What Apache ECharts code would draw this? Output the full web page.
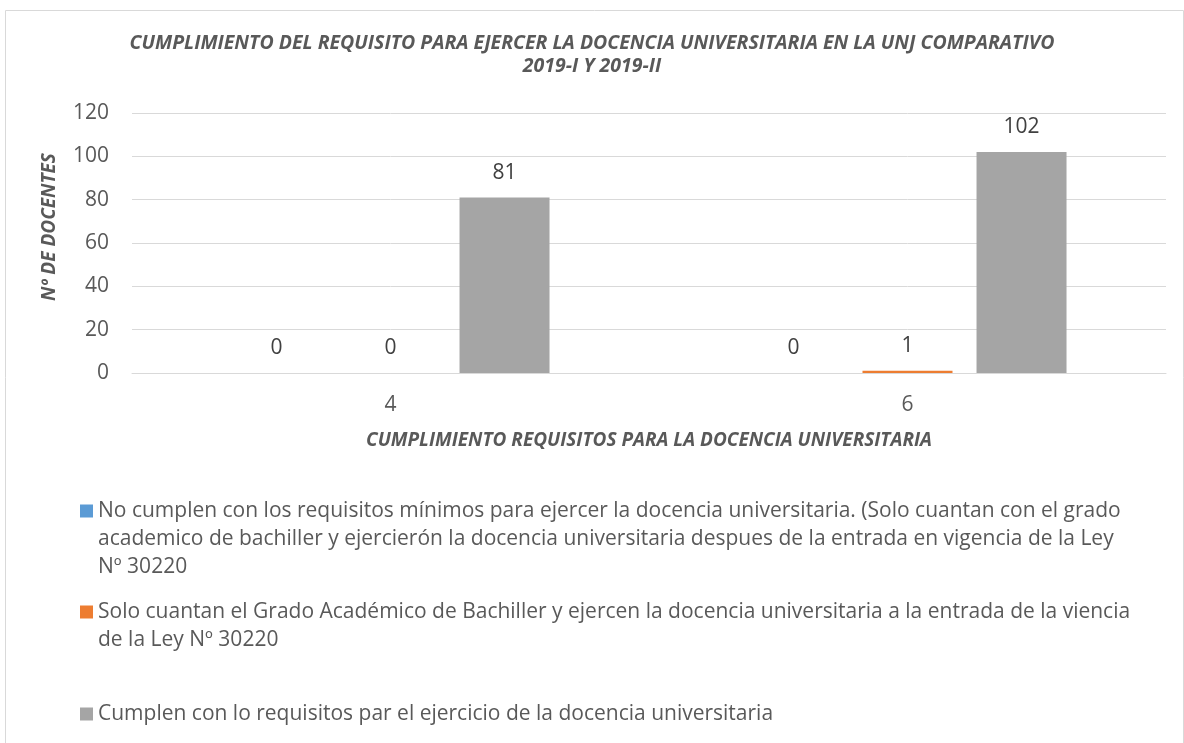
<!DOCTYPE html>
<html lang="es">
<head>
    <meta charset="UTF-8">
    <title>Cumplimiento del requisito docente UNJ</title>
    <script src="https://cdn.jsdelivr.net/npm/echarts@6/dist/echarts.min.js"></script>
    <style>
        html, body { margin: 0; padding: 0; background: #ffffff; }
        #chart { width: 1184px; height: 743px; }
    </style>
</head>
<body>
<div id="chart"></div>
<script type="text/javascript">
    // datos
    const categories = ['4', '6'];
    const seriesNames = [
        'No cumplen con los requisitos mínimos para ejercer la docencia universitaria. (Solo cuantan con el grado academico de bachiller y ejercierón la docencia universitaria despues de la entrada en vigencia de la Ley Nº 30220',
        'Solo cuantan el Grado Académico de Bachiller y ejercen la docencia universitaria a la entrada de la viencia de la Ley Nº 30220',
        'Cumplen con lo requisitos par el ejercicio de la docencia universitaria'
    ];
    // texto de la leyenda cortado en lineas como en el original
    const legendLines = [
        ['No cumplen con los requisitos mínimos para ejercer la docencia universitaria. (Solo cuantan con el grado',
         'academico de bachiller y ejercierón la docencia universitaria despues de la entrada en vigencia de la Ley',
         'Nº 30220'],
        ['Solo cuantan el Grado Académico de Bachiller y ejercen la docencia universitaria a la entrada de la viencia',
         'de la Ley Nº 30220'],
        ['Cumplen con lo requisitos par el ejercicio de la docencia universitaria']
    ];
    const noCumplen = [0, 0];
    const soloBachiller = [0, 1];
    const cumplen = [81, 102];
    const yTicks = [0, 20, 40, 60, 80, 100, 120];

    const colors = ['#5B9BD5', '#ED7D31', '#A5A5A5'];
    const textColor = '#595959';
    const font = 'Open Sans';
    const lineH = 28;
    // centro (y) de la primera linea de cada entrada de leyenda
    const legendFirstLine = [511, 612, 714];

    let myChart = echarts.init(document.getElementById('chart'));

    // el texto de la leyenda se centra sobre el icono: se anteponen lineas vacias
    // para que la primera linea real quede a la altura del cuadrado
    let legends = legendLines.map(function (lines, i) {
        let n = lines.length;
        let blank = new Array(n).join('\n');
        return {
            data: [seriesNames[i]],
            orient: 'vertical',
            left: 80,
            top: legendFirstLine[i] - (2 * n - 1) * lineH / 2,
            padding: 0,
            icon: 'rect',
            itemWidth: 13,
            itemHeight: 13,
            selectedMode: false,
            formatter: function () { return blank + lines.join('\n'); },
            textStyle: {
                color: textColor,
                fontFamily: font,
                fontSize: 21,
                lineHeight: lineH
            }
        };
    });

    function barSeries(name, data, color) {
        return {
            name: name,
            type: 'bar',
            data: data,
            barWidth: 90,
            barGap: '26.7%',
            itemStyle: { color: color },
            label: {
                show: true,
                position: 'top',
                distance: 14,
                color: '#404040',
                fontFamily: font,
                fontSize: 21
            }
        };
    }

    let option = {
        animation: false,
        textStyle: { fontFamily: font },
        title: {
            text: 'CUMPLIMIENTO DEL REQUISITO PARA EJERCER LA DOCENCIA UNIVERSITARIA EN LA UNJ COMPARATIVO\n2019-I Y 2019-II',
            left: 'center',
            top: 32,
            padding: 0,
            textStyle: {
                color: textColor,
                fontFamily: font,
                fontSize: 19.5,
                fontWeight: 'bold',
                fontStyle: 'italic',
                lineHeight: 23
            }
        },
        legend: legends,
        grid: {
            left: 132,
            right: 18,
            top: 113,
            bottom: 370,
            containLabel: false
        },
        xAxis: {
            type: 'category',
            data: categories,
            name: 'CUMPLIMIENTO REQUISITOS PARA LA DOCENCIA UNIVERSITARIA',
            nameLocation: 'middle',
            nameGap: 58,
            nameTextStyle: {
                color: textColor,
                fontFamily: font,
                fontSize: 19,
                fontWeight: 'bold',
                fontStyle: 'italic'
            },
            axisLine: { lineStyle: { color: '#D9D9D9', width: 1 } },
            axisTick: { show: false },
            axisLabel: {
                color: textColor,
                fontFamily: font,
                fontSize: 21,
                margin: 22
            }
        },
        yAxis: {
            type: 'value',
            min: yTicks[0],
            max: yTicks[yTicks.length - 1],
            interval: yTicks[1] - yTicks[0],
            name: 'Nº DE DOCENTES',
            nameLocation: 'middle',
            nameGap: 73,
            nameTextStyle: {
                color: textColor,
                fontFamily: font,
                fontSize: 19,
                fontWeight: 'bold',
                fontStyle: 'italic',
                padding: [0, 0, 0, 32]
            },
            axisLine: { show: false },
            axisTick: { show: false },
            splitLine: { lineStyle: { color: '#D9D9D9', width: 1 } },
            axisLabel: {
                color: textColor,
                fontFamily: font,
                fontSize: 21,
                margin: 23
            }
        },
        graphic: [{
            type: 'rect',
            left: 3,
            top: 8,
            silent: true,
            shape: { width: 1178, height: 745 },
            style: { fill: 'none', stroke: '#D9D9D9', lineWidth: 1 }
        }],
        series: [
            barSeries(seriesNames[0], noCumplen, colors[0]),
            barSeries(seriesNames[1], soloBachiller, colors[1]),
            barSeries(seriesNames[2], cumplen, colors[2])
        ]
    };

    myChart.setOption(option);
</script>
</body>
</html>
